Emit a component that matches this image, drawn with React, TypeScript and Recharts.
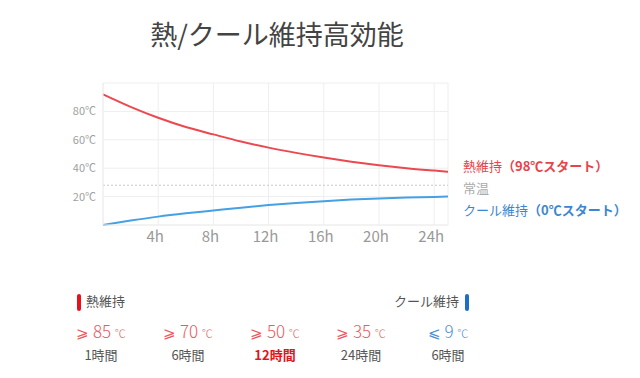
import React from "react";
import { LineChart, Line, XAxis, YAxis, CartesianGrid, ReferenceLine } from "recharts";

// 経過時間 (h) と温度 (℃)
const hours = [0, 2, 4, 6, 8, 10, 12, 14, 16, 18, 20, 22, 24, 25];
const hotTemps = [92, 83.2, 75.5, 69, 63.8, 58.8, 54.5, 50.8, 47.5, 44.6, 42.1, 40, 38.3, 37.5];
const coldTemps = [0, 3.1, 5.9, 8.2, 10.2, 12.2, 14, 15.5, 16.8, 17.9, 18.7, 19.3, 19.8, 20];

const xTicks = [4, 8, 12, 16, 20, 24];
const yTicks = [20, 40, 60, 80];
const roomTemp = 28;

// 下の保温・保冷の目安
const hotLimits = [85, 70, 50, 35];
const hotDurations = ["1時間", "6時間", "12時間", "24時間"];
const coldLimits = [9];
const coldDurations = ["6時間"];
const highlightIndex = 2;

const RED = "#ec4850";
const BLUE = "#45a0e4";
const FONT = '"Noto Sans CJK JP", "Noto Sans", sans-serif';

const data = hours.map((h, i) => ({ h, hot: hotTemps[i], cold: coldTemps[i] }));

const colCenters = [101, 188, 275, 361, 448];

export default function App() {
  const cols = [
    ...hotLimits.map((v, i) => ({ sign: "⩾", v, dur: hotDurations[i], color: "#ea5a5e", hl: i === highlightIndex })),
    ...coldLimits.map((v, i) => ({ sign: "⩽", v, dur: coldDurations[i], color: "#4a8fd8", hl: false })),
  ];

  return (
    <div style={{ position: "fixed", left: 0, top: 0, width: 640, height: 378, background: "#fff", fontFamily: FONT }}>
      <div style={{ position: "absolute", left: 0, top: 15, width: 554, textAlign: "center", fontSize: 27, color: "#444", lineHeight: "38px" }}>
        熱/クール維持高効能
      </div>

      <LineChart width={640} height={378} data={data} margin={{ top: 83, right: 192, bottom: 123, left: 63 }}>
        <CartesianGrid stroke="#eeeeee" />
        <XAxis
          dataKey="h"
          type="number"
          domain={[0, 25]}
          ticks={xTicks}
          tickFormatter={(v) => `${v}h`}
          axisLine={{ stroke: "#eeeeee" }}
          tickLine={false}
          tickSize={0}
          tickMargin={6}
          tick={{ fill: "#999", fontSize: 15, fontFamily: FONT, dx: -3 }}
        />
        <YAxis
          type="number"
          domain={[0, 100]}
          ticks={yTicks}
          width={40}
          tickFormatter={(v) => `${v}℃`}
          axisLine={{ stroke: "#eeeeee" }}
          tickLine={false}
          tickSize={0}
          tickMargin={7}
          tick={{ fill: "#a0a0a0", fontSize: 11, fontFamily: FONT }}
        />
        <ReferenceLine y={roomTemp} stroke="#c8c8c8" strokeDasharray="2 2" />
        <Line type="monotone" dataKey="hot" stroke={RED} strokeWidth={2} dot={false} isAnimationActive={false} />
        <Line type="monotone" dataKey="cold" stroke={BLUE} strokeWidth={2} dot={false} isAnimationActive={false} />
      </LineChart>

      {/* 凡例 */}
      <div style={{ position: "absolute", left: 463, top: 155, fontSize: 13, lineHeight: "22px", whiteSpace: "nowrap" }}>
        <div style={{ color: "#e8434b" }}>
          熱維持<span style={{ fontWeight: 600 }}>（98℃スタート）</span>
        </div>
        <div style={{ color: "#aaa" }}>常温</div>
        <div style={{ color: "#3c86d0" }}>
          クール維持<span style={{ fontWeight: 600 }}>（0℃スタート）</span>
        </div>
      </div>

      {/* 下の表 */}
      <div style={{ position: "absolute", left: 77, top: 294, width: 4, height: 17, borderRadius: 2, background: "#e8101a" }} />
      <div style={{ position: "absolute", left: 86, top: 292, fontSize: 13, color: "#555", lineHeight: "18px" }}>熱維持</div>
      <div style={{ position: "absolute", left: 360, top: 292, width: 99, textAlign: "right", fontSize: 13, color: "#555", lineHeight: "18px" }}>
        クール維持
      </div>
      <div style={{ position: "absolute", left: 465, top: 294, width: 4, height: 17, borderRadius: 2, background: "#1c6fc8" }} />

      {cols.map((c, i) => (
        <div key={i} style={{ position: "absolute", left: colCenters[i] - 45, top: 319, width: 90, textAlign: "center" }}>
          <div style={{ color: c.color, fontSize: 17, lineHeight: "24px", whiteSpace: "nowrap", fontWeight: 300 }}>
            <span style={{ fontFamily: '"DejaVu Sans", sans-serif', fontSize: 15 }}>{c.sign}</span> {c.v}{" "}
            <span style={{ fontSize: 11 }}>℃</span>
          </div>
          <div
            style={{
              color: c.hl ? "#e2141c" : "#555",
              fontWeight: c.hl ? 700 : 400,
              fontSize: 13,
              lineHeight: "19px",
              whiteSpace: "nowrap",
            }}
          >
            {c.dur}
          </div>
        </div>
      ))}
    </div>
  );
}
